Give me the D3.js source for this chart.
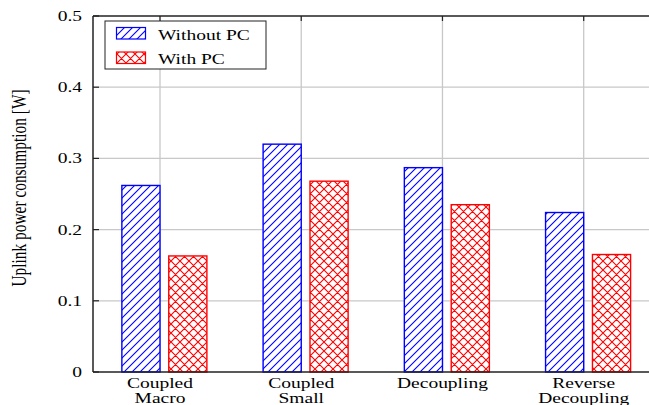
<!DOCTYPE html>
<html>
<head>
<meta charset="utf-8">
<script src="https://cdn.jsdelivr.net/npm/d3@7"></script>
<style>
  body { margin: 0; background: #fff; }
  text { font-family: "Liberation Serif", "Times New Roman", serif; fill: #000; }
</style>
</head>
<body>
<script>
// chart data
var categories = [["Coupled", "Macro"], ["Coupled", "Small"], ["Decoupling"], ["Reverse", "Decoupling"]];
var withoutPC = [0.262, 0.320, 0.287, 0.224];
var withPC = [0.163, 0.268, 0.235, 0.165];
var seriesNames = ["Without PC", "With PC"];
var yTicks = [0, 0.1, 0.2, 0.3, 0.4, 0.5];

var width = 649,
    height = 405;
var plotL = 93, plotR = 649, plotT = 16, plotB = 372;
var sx = 1.3; // the reference text is stretched horizontally

var svg = d3.select("body").append("svg")
    .attr("width", width)
    .attr("height", height);

var defs = svg.append("defs");

// blue single hatch
var p1 = defs.append("pattern")
    .attr("id", "hatchBlue")
    .attr("patternUnits", "userSpaceOnUse")
    .attr("width", 8).attr("height", 8);
p1.append("rect").attr("width", 8).attr("height", 8).attr("fill", "#fff");
p1.append("path")
    .attr("d", "M0,8 L8,0 M-2,2 L2,-2 M6,10 L10,6")
    .attr("stroke", "#0000ff").attr("stroke-width", 1.1);

// red cross hatch
var p2 = defs.append("pattern")
    .attr("id", "hatchRed")
    .attr("patternUnits", "userSpaceOnUse")
    .attr("width", 9).attr("height", 9);
p2.append("rect").attr("width", 9).attr("height", 9).attr("fill", "#fff");
p2.append("path")
    .attr("d", "M0,9 L9,0 M0,0 L9,9 M-2,2 L2,-2 M7,11 L11,7 M-2,7 L2,11 M7,-2 L11,2")
    .attr("stroke", "#ff0000").attr("stroke-width", 1.1);

var x = d3.scaleLinear().domain([1, 4]).range([160, 583.7]);
var y = d3.scaleLinear().domain([0, 0.5]).range([plotB, plotT]);
var barW = 0.27;      // bar width in category units
var redShift = 0.062; // red bar starts a little right of the tick

// grid lines
svg.append("g").selectAll("line")
    .data(yTicks.slice(1, -1))
    .enter().append("line")
    .attr("x1", plotL).attr("x2", plotR)
    .attr("y1", function(d) { return y(d); })
    .attr("y2", function(d) { return y(d); })
    .attr("stroke", "#c8c8c8").attr("stroke-width", 1.3);

svg.append("g").selectAll("line")
    .data(categories)
    .enter().append("line")
    .attr("x1", function(d, i) { return x(i + 1); })
    .attr("x2", function(d, i) { return x(i + 1); })
    .attr("y1", plotT).attr("y2", plotB)
    .attr("stroke", "#c8c8c8").attr("stroke-width", 1.3);

// bars
svg.append("g").selectAll("rect")
    .data(withoutPC)
    .enter().append("rect")
    .attr("x", function(d, i) { return x(i + 1 - barW); })
    .attr("width", function() { return x(1 + barW) - x(1); })
    .attr("y", function(d) { return y(d); })
    .attr("height", function(d) { return y(0) - y(d); })
    .attr("fill", "url(#hatchBlue)")
    .attr("stroke", "#0000ff").attr("stroke-width", 1.4);

svg.append("g").selectAll("rect")
    .data(withPC)
    .enter().append("rect")
    .attr("x", function(d, i) { return x(i + 1 + redShift); })
    .attr("width", function() { return x(1 + barW) - x(1); })
    .attr("y", function(d) { return y(d); })
    .attr("height", function(d) { return y(0) - y(d); })
    .attr("fill", "url(#hatchRed)")
    .attr("stroke", "#ff0000").attr("stroke-width", 1.4);

// axes frame
var axisColor = "#222";
svg.append("line").attr("x1", plotL).attr("x2", plotR).attr("y1", plotT).attr("y2", plotT)
    .attr("stroke", axisColor).attr("stroke-width", 1.5);
svg.append("line").attr("x1", plotL).attr("x2", plotR).attr("y1", plotB).attr("y2", plotB)
    .attr("stroke", axisColor).attr("stroke-width", 1.5);
svg.append("line").attr("x1", plotL).attr("x2", plotL).attr("y1", plotT).attr("y2", plotB)
    .attr("stroke", axisColor).attr("stroke-width", 1.5);

// y ticks (inward) and labels
var yt = svg.append("g").selectAll("g")
    .data(yTicks)
    .enter().append("g");
yt.append("line")
    .attr("x1", plotL).attr("x2", plotL + 6)
    .attr("y1", function(d) { return y(d); })
    .attr("y2", function(d) { return y(d); })
    .attr("stroke", axisColor).attr("stroke-width", 1.2);
yt.append("text")
    .attr("text-anchor", "end")
    .attr("font-size", 15)
    .attr("transform", function(d) { return "translate(82," + (y(d) + 5) + ") scale(" + sx + ",1)"; })
    .text(function(d) { return d === 0 ? "0" : d3.format(".1f")(d); });

// top ticks
svg.append("g").selectAll("line")
    .data(categories)
    .enter().append("line")
    .attr("x1", function(d, i) { return x(i + 1); })
    .attr("x2", function(d, i) { return x(i + 1); })
    .attr("y1", plotT).attr("y2", plotT + 5)
    .attr("stroke", axisColor).attr("stroke-width", 1.2);

// category labels
svg.append("g").selectAll("g")
    .data(categories)
    .enter().append("g")
    .each(function(lines, i) {
        var g = d3.select(this);
        lines.forEach(function(t, j) {
            g.append("text")
                .attr("text-anchor", "middle")
                .attr("font-size", 15)
                .attr("transform", "translate(" + x(i + 1) + "," + (388 + j * 15) + ") scale(" + sx + ",1)")
                .text(t);
        });
    });

// y axis title (rotated, so the stretch goes on glyph height)
svg.append("text")
    .attr("text-anchor", "middle")
    .attr("font-size", 15.4)
    .attr("transform", "translate(25.5,188) rotate(-90) scale(1," + sx + ")")
    .text("Uplink power consumption [W]");

// legend
var legend = svg.append("g");
legend.append("rect")
    .attr("x", 105).attr("y", 21).attr("width", 161).attr("height", 48)
    .attr("fill", "#fff").attr("stroke", axisColor).attr("stroke-width", 1);
var fills = ["url(#hatchBlue)", "url(#hatchRed)"];
var strokes = ["#0000ff", "#ff0000"];
seriesNames.forEach(function(name, i) {
    legend.append("rect")
        .attr("x", 116.5).attr("y", 27.5 + i * 24.5)
        .attr("width", 29).attr("height", 11.5)
        .attr("fill", fills[i]).attr("stroke", strokes[i]).attr("stroke-width", 1.2);
    legend.append("text")
        .attr("font-size", 15)
        .attr("transform", "translate(158," + (39.5 + i * 24.5) + ") scale(" + sx + ",1)")
        .text(name);
});
</script>
</body>
</html>
